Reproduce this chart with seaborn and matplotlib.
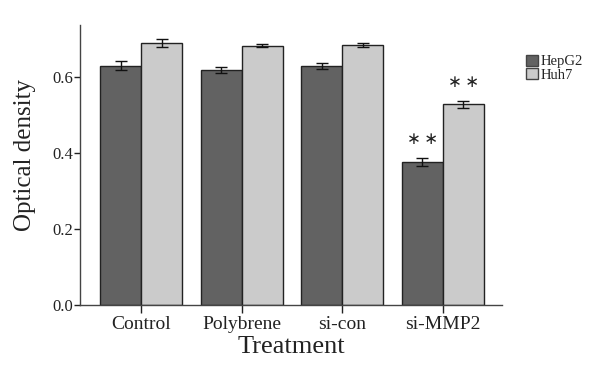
import pandas as pd
import numpy as np
import matplotlib
matplotlib.use('Agg')
import matplotlib.pyplot as plt
import seaborn as sns

# 数据
treatments = ['Control', 'Polybrene', 'si-con', 'si-MMP2']
cell_lines = ['HepG2', 'Huh7']
hepg2_mean = [0.630, 0.619, 0.629, 0.376]
huh7_mean = [0.689, 0.683, 0.685, 0.528]
hepg2_err = [0.012, 0.008, 0.009, 0.011]
huh7_err = [0.011, 0.005, 0.005, 0.009]
signif = ['', '', '', '\u2217\u2009\u2217']

df = pd.DataFrame({
    'Treatment': treatments * 2,
    'Cell': ['HepG2'] * 4 + ['Huh7'] * 4,
    'OD': hepg2_mean + huh7_mean,
    'err': hepg2_err + huh7_err,
})

sns.set_style('ticks')
plt.rcParams['font.family'] = ['Liberation Serif', 'DejaVu Serif']

fig = plt.figure(figsize=(5.93, 3.65), dpi=100)
ax = fig.add_axes([80 / 593, 60 / 365, 422 / 593, 280 / 365])

palette = {'HepG2': '#626262', 'Huh7': '#cbcbcb'}
sns.barplot(data=df, x='Treatment', y='OD', hue='Cell', order=treatments,
            hue_order=cell_lines, palette=palette, width=0.82,
            edgecolor='#222222', linewidth=1.0, errorbar=None, ax=ax)

# 误差线 + 显著性标记
for i, cell in enumerate(cell_lines):
    cont = ax.containers[i]
    sub = df[df['Cell'] == cell].set_index('Treatment').loc[treatments]
    xs = [p.get_x() + p.get_width() / 2 for p in cont]
    ax.errorbar(xs, sub['OD'], yerr=sub['err'], fmt='none', ecolor='#111111',
                elinewidth=1.0, capsize=4, capthick=1.0)
    for x, y, e, s in zip(xs, sub['OD'], sub['err'], signif):
        if s:
            ax.text(x, y + e + 0.05, s, ha='center', va='center', fontsize=12,
                    family=['DejaVu Sans'], color='#222222')

ax.set_ylim(0, 0.737)
ax.set_xlim(-0.61, 3.59)
ax.set_yticks([0.0, 0.2, 0.4, 0.6])
ax.set_yticklabels(['0.0', '0.2', '0.4', '0.6'])
ax.tick_params(axis='both', direction='out', length=4, width=1, colors='#222222',
               labelsize=12, pad=1)
ax.tick_params(axis='x', labelsize=14, length=6, pad=2)
ax.set_xlabel('Treatment', fontsize=19, color='#222222', labelpad=2)
ax.set_ylabel('Optical density', fontsize=18, color='#222222', labelpad=2)
ax.yaxis.set_label_coords(-0.105, 0.535)
sns.despine(ax=ax)
for sp in ['left', 'bottom']:
    ax.spines[sp].set_color('#444444')
    ax.spines[sp].set_linewidth(1)

leg = ax.legend(loc='upper left', bbox_to_anchor=(1.04, 0.92), frameon=False,
                fontsize=10.5, handlelength=0.8, handleheight=0.8,
                handletextpad=0.2, labelspacing=0.0, borderpad=0)
for h in leg.legend_handles:
    h.set_edgecolor('#444444')

fig.savefig('out.png', dpi=100)
